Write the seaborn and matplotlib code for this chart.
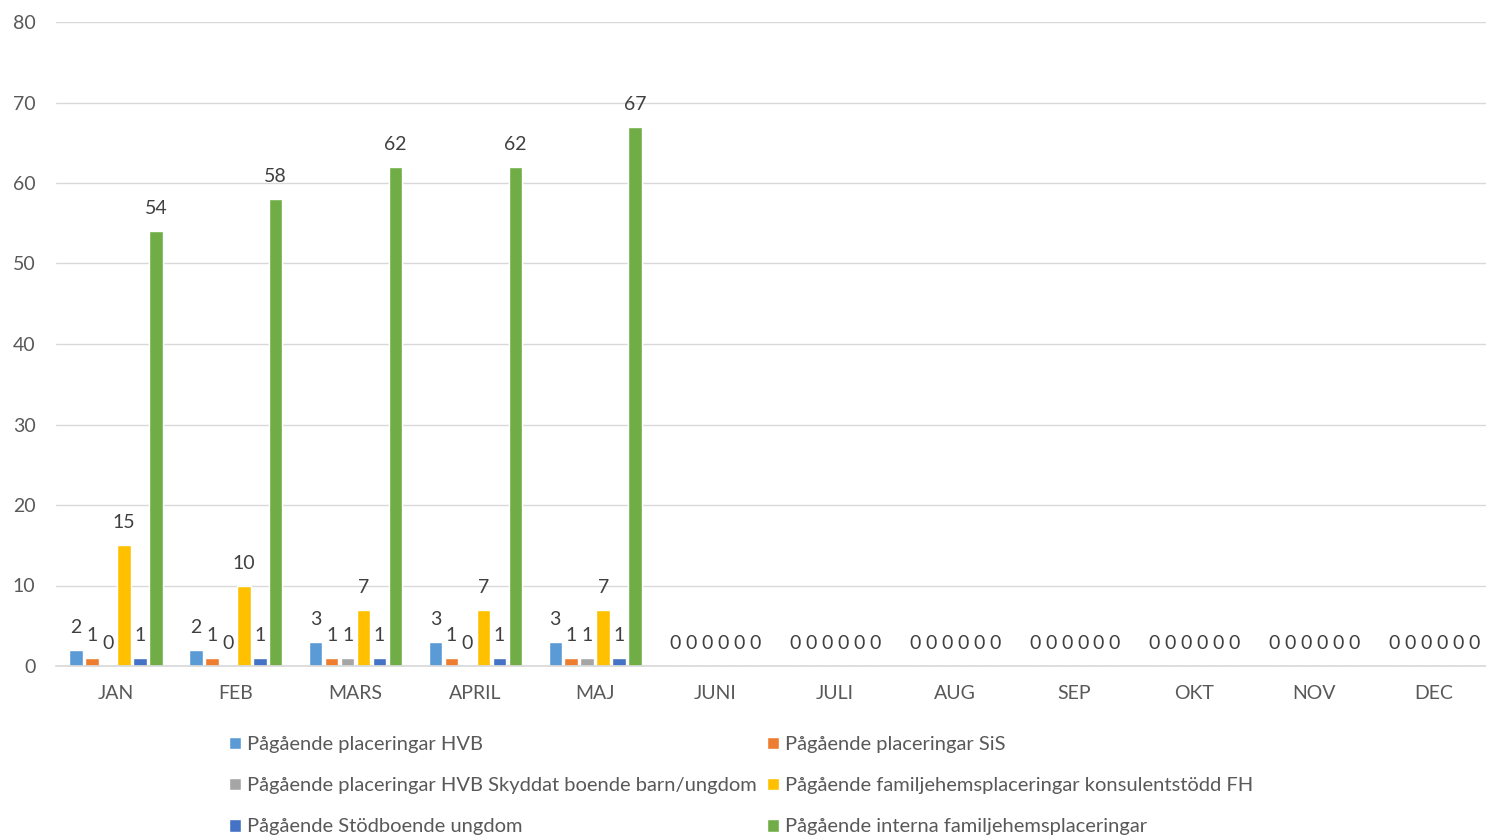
import matplotlib
matplotlib.use("Agg")
import matplotlib.pyplot as plt
import seaborn as sns
import pandas as pd

months = ["JAN", "FEB", "MARS", "APRIL", "MAJ", "JUNI", "JULI", "AUG", "SEP", "OKT", "NOV", "DEC"]
series_names = [
    "Pågående placeringar HVB",
    "Pågående placeringar SiS",
    "Pågående placeringar HVB Skyddat boende barn/ungdom",
    "Pågående familjehemsplaceringar konsulentstödd FH",
    "Pågående Stödboende ungdom",
    "Pågående interna familjehemsplaceringar",
]
hvb = [2, 2, 3, 3, 3, 0, 0, 0, 0, 0, 0, 0]
sis = [1, 1, 1, 1, 1, 0, 0, 0, 0, 0, 0, 0]
skyddat = [0, 0, 1, 0, 1, 0, 0, 0, 0, 0, 0, 0]
konsulent = [15, 10, 7, 7, 7, 0, 0, 0, 0, 0, 0, 0]
stodboende = [1, 1, 1, 1, 1, 0, 0, 0, 0, 0, 0, 0]
interna = [54, 58, 62, 62, 67, 0, 0, 0, 0, 0, 0, 0]
colors = ["#5B9BD5", "#ED7D31", "#A5A5A5", "#FFC000", "#4472C4", "#70AD47"]

values = [hvb, sis, skyddat, konsulent, stodboende, interna]
rows = []
for name, vals in zip(series_names, values):
    for m, v in zip(months, vals):
        rows.append({"Månad": m, "Serie": name, "Antal": v})
df = pd.DataFrame(rows)

sns.set_theme(style="white")
plt.rcParams["font.family"] = ["Lato", "DejaVu Sans"]

fig = plt.figure(figsize=(14.86, 8.36), dpi=100)
ax = fig.add_axes([56 / 1486, 1 - 666 / 836, 1438 / 1486, (666 - 22) / 836])

sns.barplot(data=df, x="Månad", y="Antal", hue="Serie", order=months,
            hue_order=series_names, palette=colors, width=0.8, gap=0.15,
            ax=ax, legend=True, errorbar=None, saturation=1)

ax.set_ylim(0, 80)
ax.set_yticks(range(0, 81, 10))
ax.set_xlim(-0.5, 11.5)
ax.grid(axis="y", color="#D9D9D9", linewidth=1)
ax.set_axisbelow(True)
for s in ["top", "right", "left"]:
    ax.spines[s].set_visible(False)
ax.spines["bottom"].set_color("#D9D9D9")
ax.tick_params(axis="y", length=0, pad=14.7, labelsize=14, labelcolor="#595959")
ax.tick_params(axis="x", length=0, pad=14, labelsize=14, labelcolor="#595959")
ax.set_xlabel("")
ax.set_ylabel("")

for cont in ax.containers:
    ax.bar_label(cont, padding=10, fontsize=14, color="#404040")

handles, labels = ax.get_legend_handles_labels()
ax.get_legend().remove()
order = [0, 2, 4, 1, 3, 5]
fig.legend([handles[i] for i in order], [labels[i] for i in order],
           loc="upper left", bbox_to_anchor=(229 / 1486, 1 - 736 / 836),
           ncol=2, frameon=False, fontsize=14.5, handlelength=0.6, handleheight=0.6,
           handletextpad=0.3, columnspacing=0.5, labelspacing=1.2,
           labelcolor="#595959", borderaxespad=0, borderpad=0)

fig.savefig("out.png", dpi=100)
